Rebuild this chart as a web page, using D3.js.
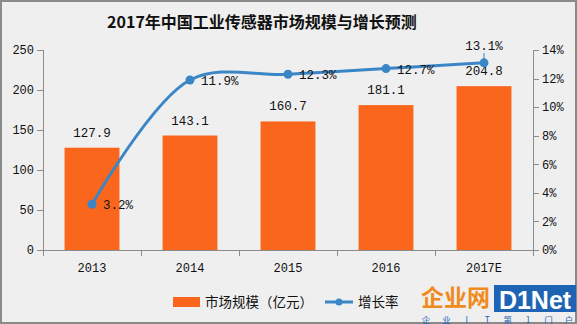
<!DOCTYPE html>
<meta charset="utf-8">
<style>
body { margin: 0; background: #fff; }
.axis path, .axis line { fill: none; stroke: #8c8c8c; shape-rendering: crispEdges; }
.axis text { fill: #111; font: 12px "Liberation Mono", monospace; }
.lbl { font: 12.5px "Liberation Mono", monospace; fill: #111; }
</style>
<body>
<script src="https://d3js.org/d3.v7.min.js"></script>
<script>

var years = ["2013", "2014", "2015", "2016", "2017E"];
var market = [127.9, 143.1, 160.7, 181.1, 204.8];
var growth = [3.2, 11.9, 12.3, 12.7, 13.1];
var leftTicks = [0, 50, 100, 150, 200, 250];
var rightTicks = [0, 2, 4, 6, 8, 10, 12, 14];
var sloganChars = ["企", "业", "I", "T", "第", "1", "门", "户"];

var W = 577, H = 324;
var plotL = 43, plotR = 533, plotT = 50, plotB = 250;

var svg = d3.select("body").append("svg")
    .attr("width", W)
    .attr("height", H);

svg.append("rect")
    .attr("x", 1).attr("y", 1)
    .attr("width", W - 2).attr("height", H - 2)
    .attr("fill", "#efefef")
    .attr("stroke", "#8a8a8a")
    .attr("stroke-width", 2);

svg.append("text")
    .attr("x", 262)
    .attr("y", 28)
    .attr("text-anchor", "middle")
    .style("font", "bold 16px 'Noto Sans CJK SC', sans-serif")
    .style("fill", "#111")
    .text("2017年中国工业传感器市场规模与增长预测");

var x = d3.scaleBand().domain(years).range([plotL, plotR]).paddingInner(0.44).paddingOuter(0.22);
var xb = d3.scaleBand().domain(years).range([plotL, plotR]);
var y = d3.scaleLinear().domain([0, 250]).range([plotB, plotT]);
var y2 = d3.scaleLinear().domain([0, 14]).range([plotB, plotT]);

// axes
svg.append("g")
    .attr("class", "axis")
    .attr("transform", "translate(" + plotL + ",0)")
    .call(d3.axisLeft(y).tickValues(leftTicks).tickSize(6).tickSizeOuter(0))
    .call(function(g) { g.select(".domain").attr("d", "M0," + plotT + "V" + (plotB + 6)); });

svg.append("g")
    .attr("class", "axis")
    .attr("transform", "translate(" + plotR + ",0)")
    .call(d3.axisRight(y2).tickValues(rightTicks).tickSize(6).tickSizeOuter(0)
      .tickFormat(function(d) { return d + "%"; }))
    .call(function(g) { g.select(".domain").attr("d", "M0," + plotT + "V" + (plotB + 6)); });

var xa = svg.append("g")
    .attr("class", "axis")
    .attr("transform", "translate(0," + plotB + ")");
xa.append("line").attr("x1", plotL).attr("x2", plotR).attr("y1", 0).attr("y2", 0);
xa.selectAll(".tk").data(years.slice(1)).enter().append("line")
    .attr("x1", function(d) { return xb(d); })
    .attr("x2", function(d) { return xb(d); })
    .attr("y1", 0).attr("y2", 6);
xa.selectAll("text").data(years).enter().append("text")
    .attr("x", function(d) { return xb(d) + xb.bandwidth() / 2; })
    .attr("y", 22)
    .attr("text-anchor", "middle")
    .text(function(d) { return d; });

// bars
svg.selectAll(".bar")
    .data(market)
    .enter().append("rect")
      .attr("x", function(d, i) { return x(years[i]); })
      .attr("width", x.bandwidth())
      .attr("y", function(d) { return y(d); })
      .attr("height", function(d) { return plotB - y(d); })
      .attr("fill", "#fa661c");

svg.selectAll(".vlbl")
    .data(market)
    .enter().append("text")
      .attr("class", "lbl")
      .attr("x", function(d, i) { return x(years[i]) + x.bandwidth() / 2; })
      .attr("y", function(d) { return y(d) - 11; })
      .attr("text-anchor", "middle")
      .text(function(d) { return d.toFixed(1); });

// growth line
var cx = function(i) { return xb(years[i]) + xb.bandwidth() / 2; };
var line = d3.line()
    .x(function(d, i) { return cx(i); })
    .y(function(d) { return y2(d); })
    .curve(d3.curveCatmullRom.alpha(0.5));

svg.append("path")
    .datum(growth)
    .attr("d", line)
    .attr("fill", "none")
    .attr("stroke", "#3a86c6")
    .attr("stroke-width", 3);

svg.selectAll(".dot")
    .data(growth)
    .enter().append("circle")
      .attr("cx", function(d, i) { return cx(i); })
      .attr("cy", function(d) { return y2(d); })
      .attr("r", 4.5)
      .attr("fill", "#3a86c6");

svg.append("line")
    .attr("x1", cx(4)).attr("x2", cx(4))
    .attr("y1", 53).attr("y2", y2(growth[4]))
    .attr("stroke", "#3a86c6");

svg.selectAll(".glbl")
    .data(growth)
    .enter().append("text")
      .attr("class", "lbl")
      .attr("x", function(d, i) { return i < 4 ? cx(i) + 11 : cx(i); })
      .attr("y", function(d, i) { return i < 4 ? y2(d) + 5 : 50; })
      .attr("text-anchor", function(d, i) { return i < 4 ? "start" : "middle"; })
      .text(function(d) { return d.toFixed(1) + "%"; });

// legend
svg.append("rect")
    .attr("x", 173).attr("y", 297).attr("width", 27).attr("height", 10)
    .attr("fill", "#fa661c");
svg.append("text")
    .attr("x", 205).attr("y", 307)
    .style("font", "13.5px 'Noto Sans CJK SC', sans-serif")
    .style("fill", "#111")
    .text("市场规模（亿元）");
svg.append("line")
    .attr("x1", 325).attr("x2", 353).attr("y1", 302).attr("y2", 302)
    .attr("stroke", "#3a86c6").attr("stroke-width", 3);
svg.append("circle")
    .attr("cx", 339).attr("cy", 302).attr("r", 3.5)
    .attr("fill", "#3a86c6");
svg.append("text")
    .attr("x", 358).attr("y", 307)
    .style("font", "13.5px 'Noto Sans CJK SC', sans-serif")
    .style("fill", "#111")
    .text("增长率");

// corner logo
var logo = svg.append("g");
logo.append("text")
    .attr("x", 421).attr("y", 306)
    .style("font", "bold 23px 'Noto Sans CJK SC', sans-serif")
    .style("fill", "#f08a1c")
    .text("企业网");
logo.append("rect")
    .attr("x", 494).attr("y", 285).attr("width", 82).attr("height", 27)
    .attr("fill", "#1e64b4");
logo.append("text")
    .attr("x", 535).attr("y", 309)
    .attr("text-anchor", "middle")
    .style("font", "bold 25px 'Liberation Sans', sans-serif")
    .style("fill", "#fff")
    .text("D1Net");

var sx = d3.scalePoint().domain(d3.range(sloganChars.length)).range([426, 569]);
logo.selectAll(".slogan")
    .data(sloganChars)
    .enter().append("text")
      .attr("x", function(d, i) { return sx(i); })
      .attr("y", 323)
      .attr("text-anchor", "middle")
      .style("font", "8.5px 'Noto Sans CJK SC', sans-serif")
      .style("fill", "#1e64b4")
      .text(function(d) { return d; });

</script>
